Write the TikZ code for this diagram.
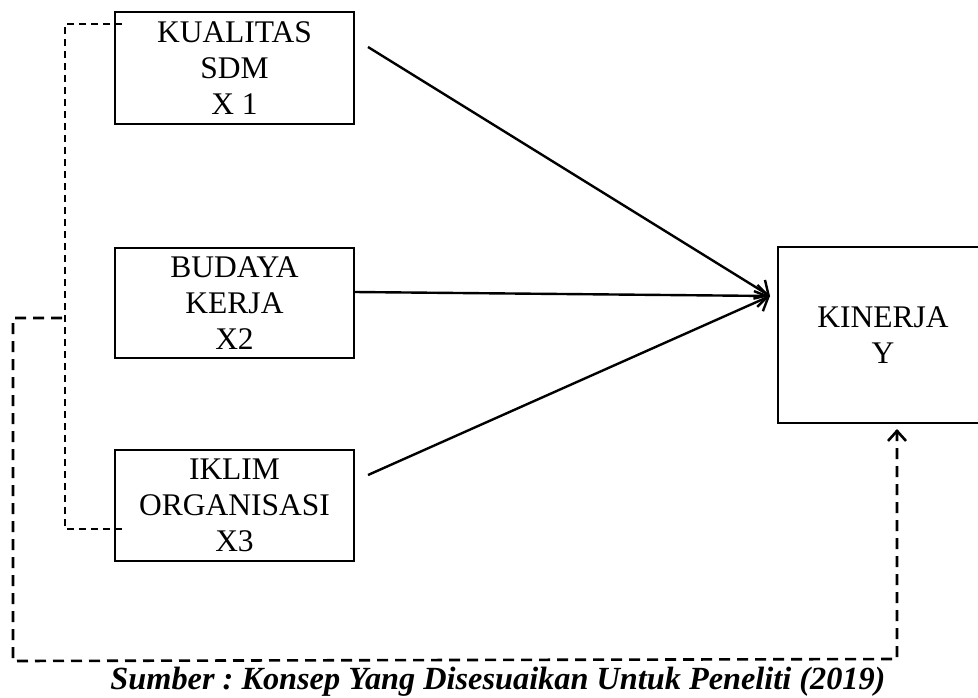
\documentclass[tikz,border=0pt]{standalone}
\usepackage{fontspec}
\setmainfont{Liberation Serif}
\usetikzlibrary{arrows.meta}
\frenchspacing
\begin{document}
\begin{tikzpicture}[x=1pt,y=-1pt,
  box/.style={draw,line width=2.4pt,align=center,inner sep=0pt,
    font=\fontsize{31.5}{36}\selectfont},
  conn/.style={line width=2.4pt,-{Straight Barb[length=11pt,width=22pt,line width=2.4pt]}},
  thindash/.style={line width=1.7pt,dash pattern=on 7pt off 5pt},
  thickdash/.style={line width=2.6pt,dash pattern=on 11pt off 7pt}]
\useasboundingbox (0,0) rectangle (978,697);
\node[box,minimum width=239pt,minimum height=112pt] (x1) at (234.5,68) {KUALITAS\\SDM\\X 1};
\node[box,minimum width=239pt,minimum height=110pt] (x2) at (234.5,303) {BUDAYA\\KERJA\\X2};
\node[box,minimum width=239pt,minimum height=111pt] (x3) at (234.5,505.5) {IKLIM\\ORGANISASI\\X3};
\node[box,minimum width=210pt,minimum height=176pt] (y) at (883,335) {KINERJA\\Y};
\coordinate (a1) at (368,47);
\coordinate (a2) at (355,292);
\coordinate (a3) at (368,475);
\coordinate (tip) at (770,296);
\draw[conn] (a1) -- (tip);
\draw[conn] (a2) -- (tip);
\draw[conn] (a3) -- (tip);
% thin dashed bracket
\coordinate (t1) at (122,24);
\coordinate (t2) at (122,529);
\draw[thindash] (t1) -- (65,24) -- (65,529) -- (t2);
% thick dashed loop
\coordinate (s) at (62,318);
\coordinate (e) at (897,429);
\draw[thickdash] (s) -- (13,318) -- (13,661) -- (897,659) -- (e);
\draw[line width=2.6pt,-{Straight Barb[length=10pt,width=18pt,line width=2.6pt]}] (897,440) -- (e);
\node[font=\fontsize{32.3}{35}\selectfont\bfseries\itshape,anchor=base,inner sep=0pt] (cap) at (498,689) {Sumber : Konsep Yang Disesuaikan Untuk Peneliti (2019)};
\end{tikzpicture}
\end{document}
